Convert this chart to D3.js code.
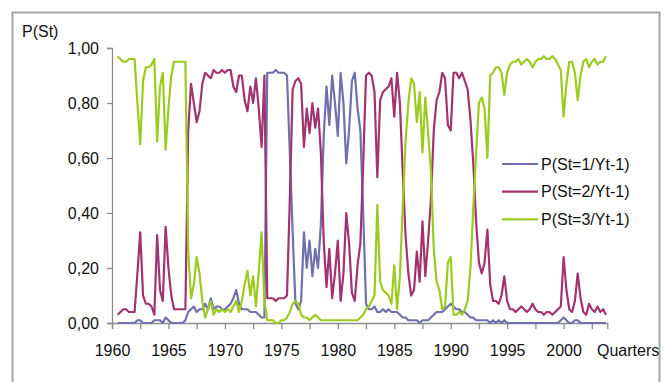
<!DOCTYPE html>
<html>
<head>
<meta charset="utf-8">
<script src="https://cdn.jsdelivr.net/npm/d3@7/dist/d3.min.js"></script>
<style>
  body { margin: 0; background: #fff; }
  text { font-family: 'Liberation Sans', Arial, sans-serif; fill: #111; }
</style>
</head>
<body>
<div id="chart"></div>
<script>
const width = 669;
const height = 382;

// Quarterly observations, first one is 1960 Q3
const firstQuarter = 1960.5;
const xTicks = d3.range(1960, 2003, 2.5);
const yTicks = [0, 0.2, 0.4, 0.6, 0.8, 1];
const seriesNames = ['P(St=1/Yt-1)', 'P(St=2/Yt-1)', 'P(St=3/Yt-1)'];
const seriesColors = ['#7070ae', '#a2336e', '#9bcb1e'];

const regime1 = [
  0.00, 0.00, 0.00, 0.00, 0.00, 0.00, 0.00, 0.01, 0.01, 0.00, 0.00, 0.00, 0.00, 0.01, 0.01, 0.01, 0.00, 0.02, 0.01, 0.00,
  0.00, 0.00, 0.00, 0.00, 0.01,
  0.04, 0.05, 0.06, 0.04, 0.05, 0.05, 0.07, 0.05, 0.09, 0.05, 0.06, 0.06, 0.05, 0.05, 0.06, 0.07, 0.09, 0.12, 0.07, 0.05,
  0.05, 0.05, 0.04, 0.04, 0.04, 0.03, 0.02, 0.02, 0.91,
  0.91, 0.91, 0.92, 0.91, 0.91, 0.91, 0.90, 0.62, 0.33, 0.07, 0.05, 0.08, 0.33, 0.20, 0.30, 0.17, 0.27, 0.20, 0.36, 0.68,
  0.86,
  0.72, 0.90, 0.80, 0.68, 0.91, 0.80, 0.58, 0.70, 0.88, 0.91, 0.78, 0.70, 0.40, 0.07,
  0.05, 0.05, 0.06, 0.04, 0.04, 0.05, 0.04, 0.05, 0.04, 0.04, 0.04, 0.03, 0.02, 0.02, 0.01,
  0.01, 0.01, 0.01, 0.00, 0.01, 0.01, 0.01, 0.02, 0.03, 0.04, 0.04, 0.04, 0.05, 0.06, 0.07, 0.06, 0.05, 0.05, 0.04, 0.04,
  0.03, 0.02, 0.02, 0.01, 0.01, 0.01, 0.01, 0.01, 0.00,
  0.01, 0.00, 0.01, 0.00, 0.01, 0.00, 0.00, 0.00, 0.00, 0.00, 0.00, 0.00, 0.00, 0.00, 0.00, 0.00, 0.00, 0.00, 0.00, 0.00,
  0.00, 0.00, 0.00, 0.00, 0.01, 0.02, 0.01, 0.00, 0.00, 0.01, 0.01, 0.00, 0.00, 0.00, 0.00, 0.00, 0.00, 0.00, 0.00, 0.00,
  0.00
];

const regime2 = [
  0.03, 0.04, 0.05, 0.05, 0.04, 0.04, 0.04, 0.18, 0.33, 0.10, 0.07, 0.07, 0.06, 0.03, 0.32, 0.12, 0.08, 0.35, 0.20, 0.10,
  0.05, 0.05, 0.05, 0.05, 0.05,
  0.70, 0.87, 0.80, 0.73, 0.77, 0.87, 0.91, 0.90, 0.89, 0.92, 0.91, 0.91, 0.92, 0.91, 0.92, 0.92, 0.86, 0.84, 0.90, 0.90,
  0.81, 0.77, 0.86, 0.80, 0.89, 0.78, 0.64, 0.90, 0.09,
  0.09, 0.09, 0.08, 0.09, 0.09, 0.09, 0.10, 0.45, 0.85, 0.88, 0.89, 0.87, 0.64, 0.78, 0.69, 0.80, 0.71, 0.78, 0.62, 0.30,
  0.13,
  0.27, 0.09, 0.18, 0.30, 0.08, 0.18, 0.40, 0.29, 0.11, 0.08, 0.21, 0.29, 0.58, 0.90,
  0.91, 0.90, 0.84, 0.53, 0.81, 0.84, 0.85, 0.86, 0.89, 0.75, 0.91, 0.80, 0.55, 0.32, 0.18,
  0.10, 0.12, 0.26, 0.15, 0.37, 0.17, 0.30, 0.45, 0.70, 0.81, 0.84, 0.91, 0.89, 0.72, 0.70, 0.91, 0.91, 0.89, 0.91, 0.88,
  0.85, 0.74, 0.58, 0.37, 0.22, 0.18, 0.22, 0.34, 0.14,
  0.08, 0.08, 0.07, 0.10, 0.17, 0.08, 0.05, 0.05, 0.04, 0.05, 0.06, 0.05, 0.04, 0.05, 0.07, 0.05, 0.04, 0.04, 0.03, 0.04,
  0.04, 0.03, 0.04, 0.05, 0.06, 0.24, 0.12, 0.05, 0.04, 0.08, 0.18, 0.09, 0.04, 0.03, 0.07, 0.05, 0.04, 0.06, 0.04, 0.05,
  0.03
];

const regime3 = [
  0.97, 0.96, 0.95, 0.95, 0.96, 0.96, 0.96, 0.80, 0.65, 0.88, 0.93, 0.93, 0.94, 0.96, 0.66, 0.86, 0.91, 0.63, 0.78, 0.90,
  0.95, 0.95, 0.95, 0.95, 0.95,
  0.26, 0.09, 0.14, 0.24, 0.18, 0.08, 0.02, 0.05, 0.08, 0.03, 0.05, 0.04, 0.05, 0.04, 0.05, 0.04, 0.06, 0.08, 0.04, 0.08,
  0.14, 0.19, 0.10, 0.17, 0.06, 0.19, 0.33, 0.08, 0.01,
  0.01, 0.01, 0.00, 0.00, 0.01, 0.01, 0.02, 0.04, 0.07, 0.08, 0.07, 0.03, 0.02, 0.02, 0.01, 0.02, 0.03, 0.02, 0.01, 0.01,
  0.01,
  0.01, 0.01, 0.01, 0.01, 0.01, 0.01, 0.01, 0.01, 0.01, 0.01, 0.01, 0.02, 0.03, 0.05,
  0.06, 0.08, 0.10, 0.43, 0.15, 0.12, 0.11, 0.10, 0.07, 0.21, 0.05, 0.17, 0.42, 0.66, 0.80,
  0.89, 0.87, 0.73, 0.84, 0.62, 0.82, 0.69, 0.55, 0.27, 0.15, 0.12, 0.05, 0.06, 0.22, 0.24, 0.03, 0.03, 0.04, 0.03, 0.05,
  0.08, 0.20, 0.42, 0.62, 0.80, 0.82, 0.78, 0.60, 0.90,
  0.91, 0.93, 0.93, 0.91, 0.83, 0.91, 0.94, 0.95, 0.95, 0.96, 0.94, 0.95, 0.96, 0.95, 0.93, 0.95, 0.96, 0.96, 0.97, 0.96,
  0.96, 0.97, 0.96, 0.94, 0.92, 0.75, 0.87, 0.95, 0.95, 0.91, 0.81, 0.90, 0.95, 0.96, 0.93, 0.95, 0.96, 0.94, 0.95, 0.95,
  0.97
];

const series = [regime1, regime2, regime3];

const svg = d3.select('#chart').append('svg')
  .attr('width', width)
  .attr('height', height);

// Outer chart frame
svg.append('rect')
  .attr('x', 12.5)
  .attr('y', 12.5)
  .attr('width', 647)
  .attr('height', 420)
  .attr('fill', 'none')
  .attr('stroke', '#a6a6a6')
  .attr('stroke-width', 2);

const x = d3.scaleLinear().domain([1960, 2003.87]).range([112, 607.3]);
const y = d3.scaleLinear().domain([0, 1]).range([323, 48]);

// Axes
const yAxis = svg.append('g')
  .attr('transform', 'translate(112,0)')
  .call(d3.axisLeft(y).tickValues(yTicks).tickSize(5).tickPadding(8)
    .tickFormat((d) => d3.format('.2f')(d).replace('.', ',')));

const xAxis = svg.append('g')
  .attr('transform', 'translate(0,323)')
  .call(d3.axisBottom(x).tickValues(xTicks).tickSize(6).tickPadding(16)
    .tickFormat((d) => (d % 5 === 0 ? d : '')));

[xAxis, yAxis].forEach((axis) => {
  axis.select('.domain').attr('stroke', '#8c8c8c').attr('stroke-width', 1.3);
  axis.selectAll('.tick line').attr('stroke', '#8c8c8c').attr('stroke-width', 1.3);
  axis.selectAll('.tick text')
    .style('font-family', "'Liberation Sans', Arial, sans-serif")
    .style('font-size', '16px')
    .attr('fill', '#111');
});
yAxis.selectAll('.tick text').attr('dy', '0.36em');

// Lines for every regime
const line = d3.line()
  .x((_, i) => x(firstQuarter + i / 4))
  .y((d) => y(d));

svg.selectAll('.regime')
  .data(series)
  .enter()
  .append('path')
  .attr('class', 'regime')
  .attr('fill', 'none')
  .attr('stroke', (_, i) => seriesColors[i])
  .attr('stroke-width', 2.2)
  .attr('stroke-linejoin', 'round')
  .attr('d', line);

// Titles
svg.append('text')
  .attr('x', 22)
  .attr('y', 37)
  .style('font-size', '16px')
  .text('P(St)');

svg.append('text')
  .attr('x', 597)
  .attr('y', 356)
  .style('font-size', '16px')
  .text('Quarters');

// Legend
const legend = svg.selectAll('.legend')
  .data(seriesNames)
  .enter()
  .append('g')
  .attr('class', 'legend')
  .attr('transform', (_, i) => `translate(502,${164 + i * 27.7})`);

legend.append('line')
  .attr('x1', 0)
  .attr('x2', 36)
  .attr('stroke', (_, i) => seriesColors[i])
  .attr('stroke-width', 2.2);

legend.append('text')
  .attr('x', 39)
  .attr('dy', '0.36em')
  .style('font-size', '16px')
  .text((d) => d);
</script>
</body>
</html>
